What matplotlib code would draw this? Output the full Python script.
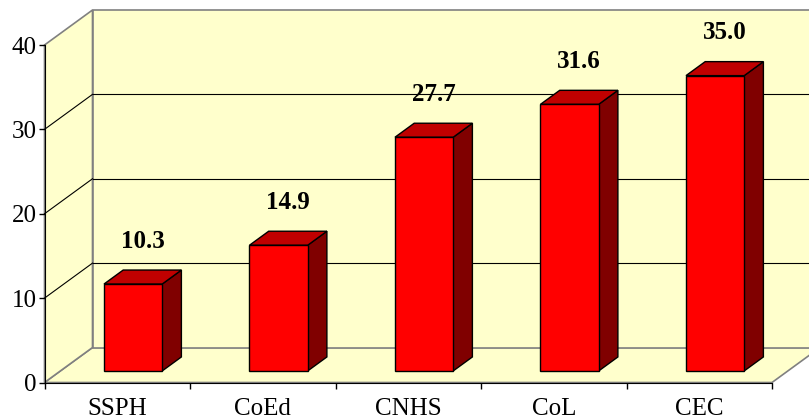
import matplotlib
matplotlib.use("Agg")
import matplotlib.pyplot as plt
from matplotlib.patches import Polygon

categories = ["SSPH", "CoEd", "CNHS", "CoL", "CEC"]
values = [10.3, 14.9, 27.7, 31.6, 35.0]
yticks = [0, 10, 20, 30, 40]
ymax = 40

W, H = 809, 420
fig = plt.figure(figsize=(W / 100, H / 100), dpi=100)
fig.patch.set_facecolor("white")

# front plane in pixels
L, R, B, T = 44.5, 772, 382.5, 45
ax = fig.add_axes([L / W, (H - B) / H, (R - L) / W, (B - T) / H])
n = len(categories)
ax.set_xlim(-0.5, n - 0.5)
ax.set_ylim(0, ymax)
ax.set_facecolor("none")

px_x = (R - L) / n          # pixels per category
px_y = (B - T) / ymax       # pixels per unit
DX = 48 / px_x              # full depth offset (data units)
DY = 35 / px_y

wall = "#FFFFCC"
edge = "#808080"

def P(x, y, d):
    return (x + d * DX, y + d * DY)

x0, x1 = -0.5, n - 0.5
# floor
ax.add_patch(Polygon([P(x0, 0, 0), P(x1, 0, 0), P(x1, 0, 1), P(x0, 0, 1)],
                     closed=True, facecolor=wall, edgecolor=edge, lw=1.2,
                     clip_on=False, zorder=1))
# left wall
ax.add_patch(Polygon([P(x0, 0, 0), P(x0, 0, 1), P(x0, ymax, 1), P(x0, ymax, 0)],
                     closed=True, facecolor=wall, edgecolor=edge, lw=1.2,
                     clip_on=False, zorder=1))
# back wall
ax.add_patch(Polygon([P(x0, 0, 1), P(x1, 0, 1), P(x1, ymax, 1), P(x0, ymax, 1)],
                     closed=True, facecolor=wall, edgecolor=edge, lw=1.2,
                     clip_on=False, zorder=1))
# gridlines
for v in yticks[1:-1]:
    a, b = P(x0, v, 0), P(x0, v, 1)
    ax.plot([a[0], b[0]], [a[1], b[1]], color="black", lw=0.8, clip_on=False, zorder=2)
    c = P(x1, v, 1)
    ax.plot([b[0], c[0]], [b[1], c[1]], color="black", lw=0.8, clip_on=False, zorder=2)

# bars
d1, d2 = 0.33, 0.73
bw = 0.40
front_c = "#FF0000"
top_c = "#C00000"
side_c = "#800000"
for i, v in enumerate(values):
    xl, xr = i - bw / 2, i + bw / 2
    side = [P(xr, 0, d1), P(xr, 0, d2), P(xr, v, d2), P(xr, v, d1)]
    top = [P(xl, v, d1), P(xr, v, d1), P(xr, v, d2), P(xl, v, d2)]
    front = [P(xl, 0, d1), P(xr, 0, d1), P(xr, v, d1), P(xl, v, d1)]
    for poly, col in ((side, side_c), (top, top_c), (front, front_c)):
        ax.add_patch(Polygon(poly, closed=True, facecolor=col, edgecolor="black",
                             lw=1.0, joinstyle="miter", clip_on=False, zorder=3))
    lx, ly = P(i, v, (d1 + d2) / 2)
    ax.text(lx, v + d1 * DY + 36.5 / px_y, f"{v:.1f}", ha="center", va="baseline",
            fontsize=18, fontweight="bold", family="Liberation Serif",
            color="black", zorder=5, clip_on=False)

# axes styling
for s in ("top", "right"):
    ax.spines[s].set_visible(False)
ax.spines["left"].set_color("black")
ax.spines["bottom"].set_color("black")
ax.spines["left"].set_zorder(4)
ax.spines["bottom"].set_zorder(4)
ax.set_yticks(yticks)
ax.set_yticklabels([str(t) for t in yticks], family="Liberation Serif", fontsize=18)
ax.tick_params(axis="y", length=4, width=1, pad=1.5, colors="black")
ax.set_xticks([k - 0.5 for k in range(n + 1)])
ax.set_xticklabels([""] * (n + 1))
ax.tick_params(axis="x", which="major", length=4, width=1, color="black")
ax.set_xticks(range(n), minor=True)
ax.set_xticklabels(categories, minor=True, family="Liberation Serif", fontsize=18)
ax.tick_params(axis="x", which="minor", length=0, pad=11.5)

fig.savefig("out.png", dpi=100)
